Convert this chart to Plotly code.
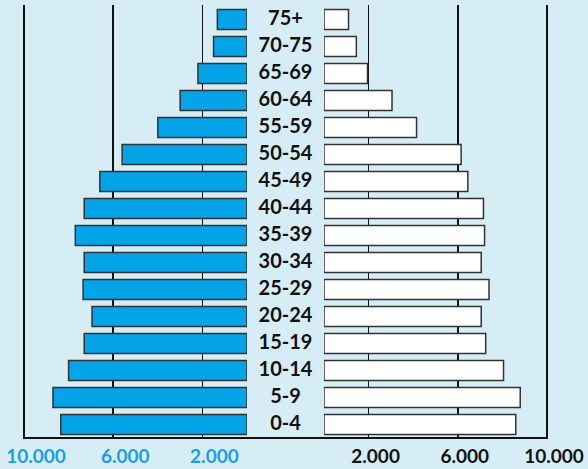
import plotly.graph_objects as go

age_groups = ["0-4", "5-9", "10-14", "15-19", "20-24", "25-29", "30-34", "35-39",
              "40-44", "45-49", "50-54", "55-59", "60-64", "65-69", "70-75", "75+"]
left_values = [8350, 8700, 8000, 7300, 6950, 7350, 7300, 7700,
               7300, 6600, 5600, 4000, 3000, 2200, 1500, 1330]
right_values = [8600, 8800, 8050, 7250, 7050, 7400, 7050, 7200,
                7150, 6450, 6150, 4150, 3050, 1950, 1450, 1100]
tick_vals = [2000, 6000, 10000]
tick_text = ["2.000", "6.000", "10.000"]

W, H = 588, 469
FONT = "Lato"
BLUE = "#05a3e8"
EDGE = "#333333"

fig = go.Figure()
fig.add_trace(go.Bar(y=age_groups, x=left_values, orientation="h",
                     xaxis="x", yaxis="y",
                     marker=dict(color=BLUE, line=dict(color=EDGE, width=1.5)),
                     showlegend=False, hoverinfo="skip"))
fig.add_trace(go.Bar(y=age_groups, x=right_values, orientation="h",
                     xaxis="x2", yaxis="y",
                     marker=dict(color="white", line=dict(color=EDGE, width=1.5)),
                     showlegend=False, hoverinfo="skip"))
fig.add_trace(go.Scatter(y=age_groups, x=[0] * len(age_groups), mode="text",
                         text=age_groups, xaxis="x3", yaxis="y",
                         textfont=dict(family=FONT, size=20, color="#111111",
                                       weight="bold"),
                         showlegend=False, hoverinfo="skip"))

PX = 223 / 10000  # pixels per unit
EXT = 100         # small range extension so the 10.000 gridline is drawn
ld = [(24 - EXT * PX) / W, 247 / W]
rd = [324 / W, (547 + EXT * PX) / W]
yd = [1 - 438 / H, 1 - 5 / H]
y_lo = -0.5
y_hi = 15.5 + 1 / 27

common = dict(showgrid=True, gridcolor="#111111", gridwidth=1.6,
              zeroline=False, tickvals=tick_vals, ticktext=tick_text,
              ticks="", showline=False, fixedrange=True, automargin=False,
              ticklabeloverflow="allow")

fig.update_layout(
    width=W, height=H, autosize=False,
    margin=dict(l=0, r=0, t=0, b=0, pad=0),
    paper_bgcolor="#d7edf6", plot_bgcolor="rgba(0,0,0,0)",
    bargap=0.26,
    xaxis=dict(domain=ld, range=[10000 + EXT, 0], anchor="y",
               tickfont=dict(family=FONT, size=19, color="#1a9ee0", weight="bold"),
               ticklabelshift=-12, ticklabelstandoff=5, **common),
    xaxis2=dict(domain=rd, range=[0, 10000 + EXT], anchor="y",
                tickfont=dict(family=FONT, size=19, color="#111111", weight="bold"),
                ticklabelshift=7, ticklabelstandoff=5, **common),
    xaxis3=dict(domain=[ld[1], rd[0]], range=[-1, 1], anchor="y",
                visible=False, fixedrange=True, automargin=False),
    yaxis=dict(domain=yd, range=[y_lo, y_hi], showgrid=False, showticklabels=False,
               ticks="", zeroline=False, showline=False, fixedrange=True,
               automargin=False),
    shapes=[dict(type="line", xref="paper", yref="paper",
                 x0=23 / W, x1=548 / W, y0=yd[0], y1=yd[0],
                 line=dict(color="#111111", width=2.2), layer="above")],
)

fig.write_html(
    "out.html",
    config={"displayModeBar": False, "staticPlot": True},
    post_script="document.body.style.margin='0';document.body.style.overflow='hidden';",
)
